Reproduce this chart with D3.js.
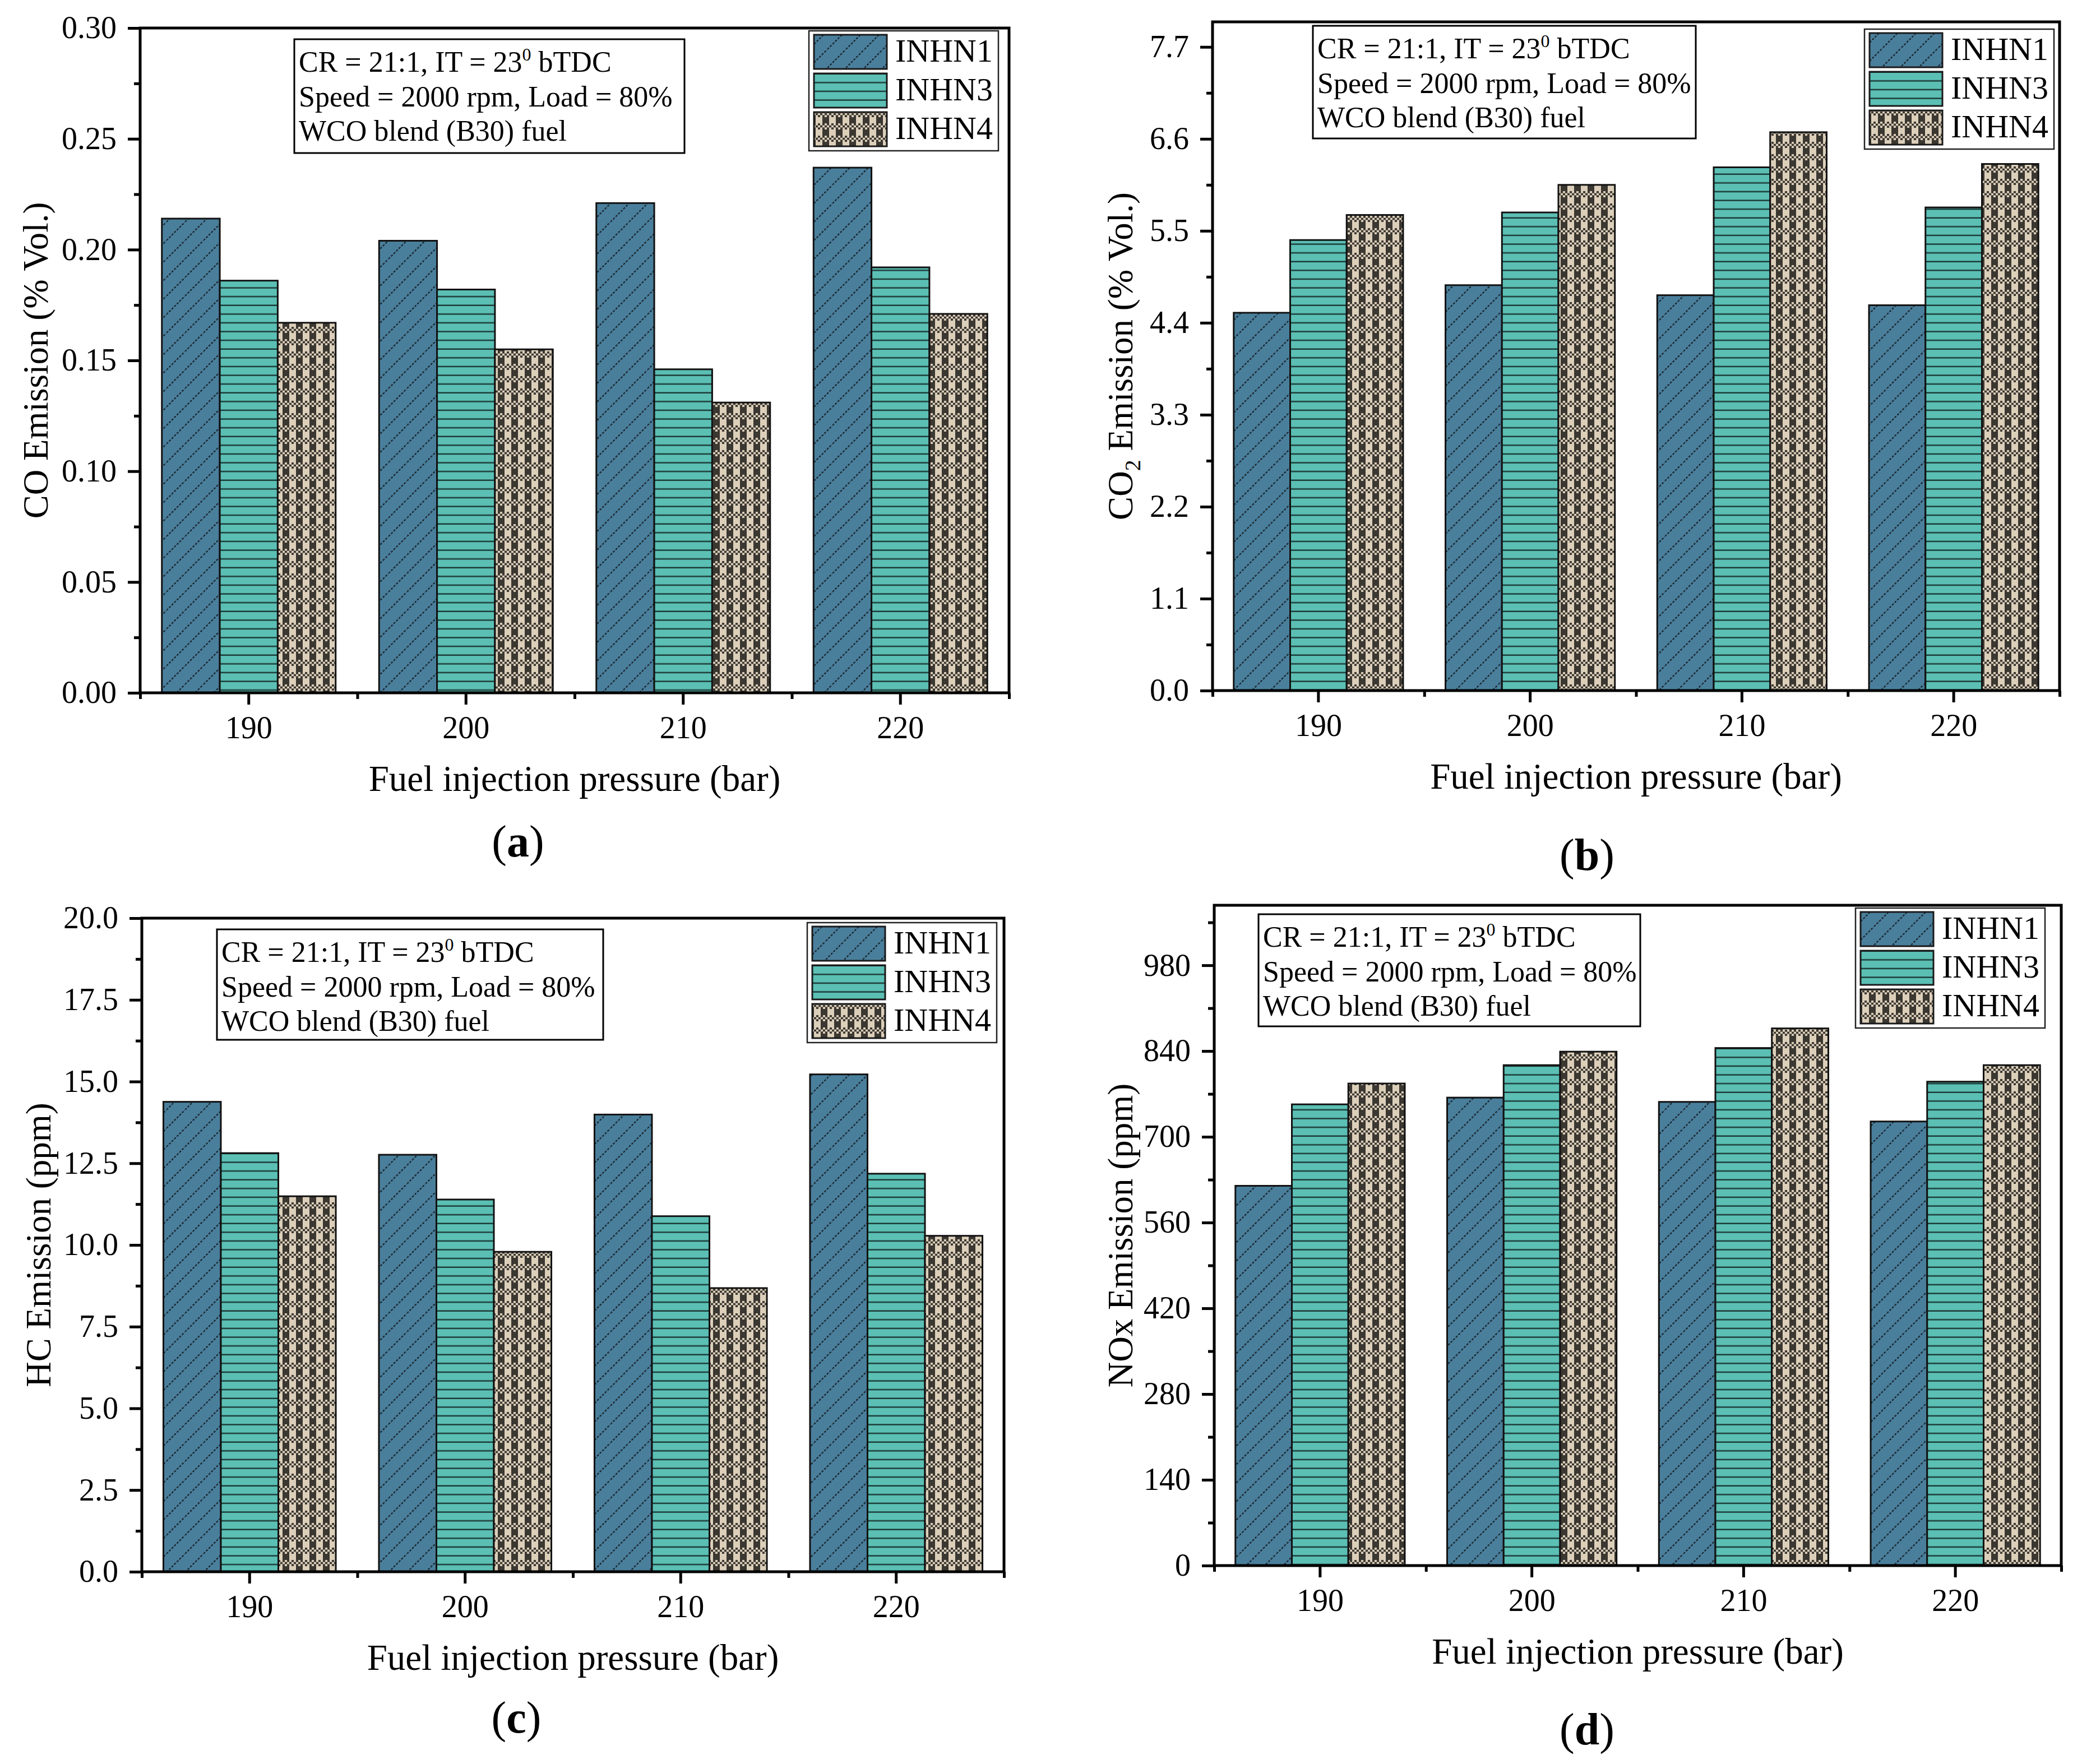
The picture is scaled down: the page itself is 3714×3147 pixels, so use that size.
<!DOCTYPE html>
<html>
<head>
<meta charset="utf-8">
<script src="https://cdn.jsdelivr.net/npm/d3@7"></script>
<style>
  body { margin: 0; background: #fff; }
  text { font-family: "Liberation Serif", "Times New Roman", serif; fill: #000; }
</style>
</head>
<body>
<script>
const pressures = ["190", "200", "210", "220"]
const blends = ["INHN1", "INHN3", "INHN4"]

// CO emission (% Vol.)
const coInhn1 = [0.214, 0.204, 0.221, 0.237]
const coInhn3 = [0.186, 0.182, 0.146, 0.192]
const coInhn4 = [0.167, 0.155, 0.131, 0.171]
// CO2 emission (% Vol.)
const co2Inhn1 = [4.52, 4.85, 4.73, 4.61]
const co2Inhn3 = [5.39, 5.72, 6.26, 5.78]
const co2Inhn4 = [5.69, 6.05, 6.68, 6.30]
// HC emission (ppm)
const hcInhn1 = [14.38, 12.76, 13.99, 15.22]
const hcInhn3 = [12.81, 11.39, 10.88, 12.18]
const hcInhn4 = [11.49, 9.79, 8.68, 10.28]
// NOx emission (ppm)
const noxInhn1 = [620, 764, 757, 725]
const noxInhn3 = [753, 817, 845, 790]
const noxInhn4 = [787, 839, 877, 817]

const coTicks = [0, 0.05, 0.10, 0.15, 0.20, 0.25, 0.30]
const co2Ticks = [0, 1.1, 2.2, 3.3, 4.4, 5.5, 6.6, 7.7]
const hcTicks = [0, 2.5, 5, 7.5, 10, 12.5, 15, 17.5, 20]
const noxTicks = [0, 140, 280, 420, 560, 700, 840, 980]

const noteLine1 = ["CR = 21:1, IT = 23", "0", " bTDC"]
const noteLine2 = "Speed = 2000 rpm, Load = 80%"
const noteLine3 = "WCO blend (B30) fuel"
const xTitle = "Fuel injection pressure (bar)"

const W = 3714, H = 3147
const fontFam = '"Liberation Serif", "Times New Roman", serif'

// layout per panel: plot box [left, top, right, bottom]
const panels = [
  {tag: "a", vals: [coInhn1, coInhn3, coInhn4], ticks: coTicks, max: 0.30, fmt: ".2f",
   box: [250, 50, 1800, 1236], title: ["CO Emission (% Vol.)"], titleDx: 165,
   note: [525, 70, 696, 203], legend: [1443, 55], label: [924, 1528]},
  {tag: "b", vals: [co2Inhn1, co2Inhn3, co2Inhn4], ticks: co2Ticks, max: 8.0, fmt: ".1f",
   box: [2163, 39, 3674, 1232], title: ["CO", "2", " Emission (% Vol.)"], titleDx: 143,
   note: [2342, 46, 683, 201], legend: [3326, 52], label: [2831, 1552]},
  {tag: "c", vals: [hcInhn1, hcInhn3, hcInhn4], ticks: hcTicks, max: 20, fmt: ".1f",
   box: [253, 1638, 1791, 2804], title: ["HC Emission (ppm)"], titleDx: 163,
   note: [387, 1658, 689, 197], legend: [1440, 1646], label: [921, 3091]},
  {tag: "d", vals: [noxInhn1, noxInhn3, noxInhn4], ticks: noxTicks, max: 1078, fmt: "d",
   box: [2166, 1615, 3677, 2793], title: ["NOx Emission (ppm)"], titleDx: 146,
   note: [2245, 1631, 681, 200], legend: [3310, 1620], label: [2831, 3112]}
]

const svg = d3.select("body").append("svg")
  .attr("width", W)
  .attr("height", H)
  .style("background", "#fff")

const defs = svg.append("defs")

// INHN1: blue with diagonal hatch
const p1 = defs.append("pattern").attr("id", "pat0")
  .attr("patternUnits", "userSpaceOnUse").attr("width", 33).attr("height", 33)
p1.append("rect").attr("width", 33).attr("height", 33).attr("fill", "#4a7f9c")
p1.append("path").attr("d", "M0,33L33,0M-8,8L8,-8M25,41L41,25")
  .attr("stroke", "#1c2c36").attr("stroke-width", 2.5).attr("stroke-dasharray", "4 2.5")

// INHN3: teal with horizontal lines
const p2 = defs.append("pattern").attr("id", "pat1")
  .attr("patternUnits", "userSpaceOnUse").attr("width", 10).attr("height", 15.6)
p2.append("rect").attr("width", 10).attr("height", 15.6).attr("fill", "#5bbfb4")
p2.append("rect").attr("y", 13.1).attr("width", 10).attr("height", 2.5).attr("fill", "#1d3b38")

// INHN4: beige/dark check
const dark4 = "#3b3731"
const p3 = defs.append("pattern").attr("id", "pat2")
  .attr("patternUnits", "userSpaceOnUse").attr("width", 24).attr("height", 22)
p3.append("rect").attr("width", 24).attr("height", 22).attr("fill", "#dccfba")
p3.append("rect").attr("width", 12).attr("height", 11).attr("fill", dark4)
for (let i = 0; i < 6; i++) {
  for (let j = 0; j < 3; j++) {
    if ((i + j) % 2 === 0) {
      p3.append("rect").attr("x", i * 4).attr("y", 11 + j * 11 / 3)
        .attr("width", 4).attr("height", 11 / 3).attr("fill", dark4)
    }
  }
}

panels.forEach(p => {
  const [L, T, R, B] = p.box
  const g = svg.append("g")

  const x = d3.scaleBand().domain(pressures).range([L, R]).paddingInner(0.2).paddingOuter(0.1)
  const xs = d3.scaleBand().domain(blends).range([0, x.bandwidth()])
  const xl = d3.scaleLinear().domain([185, 225]).range([L, R])
  const y = d3.scaleLinear().domain([0, p.max]).range([B, T])

  // bars
  blends.forEach((s, k) => {
    g.append("g").selectAll("rect")
      .data(p.vals[k])
      .join("rect")
      .attr("x", (d, i) => x(pressures[i]) + xs(s))
      .attr("y", d => y(d))
      .attr("width", xs.bandwidth())
      .attr("height", d => B - y(d))
      .attr("fill", `url(#pat${k})`)
      .attr("stroke", "#121212")
      .attr("stroke-width", 3)
  })

  // frame
  g.append("rect")
    .attr("x", L).attr("y", T).attr("width", R - L).attr("height", B - T)
    .attr("fill", "none").attr("stroke", "#000").attr("stroke-width", 5)

  // y axis: major + minor
  const step = p.ticks[1] - p.ticks[0]
  const minor = d3.pairs(p.ticks).map(([a, b]) => (a + b) / 2)
  const extra = p.ticks[p.ticks.length - 1] + step / 2
  if (extra <= p.max) minor.push(extra)

  g.append("g")
    .attr("transform", `translate(${L},0)`)
    .call(d3.axisLeft(y).tickValues(p.ticks).tickSize(22).tickPadding(20).tickFormat(d3.format(p.fmt)))
    .attr("font-size", 56).attr("font-family", fontFam)
    .call(a => a.select(".domain").remove())
    .call(a => a.selectAll("line").attr("stroke", "#000").attr("stroke-width", 5))
    .call(a => a.selectAll("text").attr("fill", "#000"))

  g.append("g")
    .attr("transform", `translate(${L},0)`)
    .call(d3.axisLeft(y).tickValues(minor).tickSize(11).tickFormat(""))
    .call(a => a.select(".domain").remove())
    .call(a => a.selectAll("line").attr("stroke", "#000").attr("stroke-width", 5))

  // x axis: major at categories, minor at group boundaries
  g.append("g")
    .attr("transform", `translate(0,${B})`)
    .call(d3.axisBottom(x).tickSize(21).tickPadding(20))
    .attr("font-size", 56).attr("font-family", fontFam)
    .call(a => a.select(".domain").remove())
    .call(a => a.selectAll("line").attr("stroke", "#000").attr("stroke-width", 5))
    .call(a => a.selectAll("text").attr("fill", "#000"))

  g.append("g")
    .attr("transform", `translate(0,${B})`)
    .call(d3.axisBottom(xl).tickValues([185, 195, 205, 215, 225]).tickSize(11).tickFormat(""))
    .call(a => a.select(".domain").remove())
    .call(a => a.selectAll("line").attr("stroke", "#000").attr("stroke-width", 5))

  // axis titles
  g.append("text")
    .attr("x", (L + R) / 2).attr("y", B + 175)
    .attr("text-anchor", "middle").attr("font-size", 65)
    .text(xTitle)

  const yt = g.append("text")
    .attr("transform", `translate(${L - p.titleDx},${(T + B) / 2}) rotate(-90)`)
    .attr("text-anchor", "middle").attr("font-size", 63)
  if (p.title.length === 1) {
    yt.text(p.title[0])
  } else {
    yt.append("tspan").text(p.title[0])
    yt.append("tspan").attr("font-size", 40).attr("dy", 14).text(p.title[1])
    yt.append("tspan").attr("dy", -14).text(p.title[2])
  }

  // condition note box
  const [nx, ny, nw, nh] = p.note
  g.append("rect").attr("x", nx).attr("y", ny).attr("width", nw).attr("height", nh)
    .attr("fill", "#fff").attr("stroke", "#000").attr("stroke-width", 3)
  const t1 = g.append("text").attr("x", nx + 8).attr("y", ny + 58).attr("font-size", 52)
  t1.append("tspan").text(noteLine1[0])
  t1.append("tspan").attr("font-size", 32).attr("dy", -20).text(noteLine1[1])
  t1.append("tspan").attr("dy", 20).text(noteLine1[2])
  g.append("text").attr("x", nx + 8).attr("y", ny + 120).attr("font-size", 52).text(noteLine2)
  g.append("text").attr("x", nx + 8).attr("y", ny + 181).attr("font-size", 52).text(noteLine3)

  // legend
  const [lx, ly] = p.legend
  const lg = g.append("g").attr("transform", `translate(${lx},${ly})`)
  lg.append("rect").attr("width", 338).attr("height", 214)
    .attr("fill", "#fff").attr("stroke", "#222").attr("stroke-width", 2.5)
  blends.forEach((s, k) => {
    lg.append("rect")
      .attr("x", 9).attr("y", 7 + k * 69).attr("width", 130).attr("height", 61)
      .attr("fill", `url(#pat${k})`).attr("stroke", "#1a1a1a").attr("stroke-width", 3)
    lg.append("text")
      .attr("x", 154).attr("y", 55 + k * 69).attr("font-size", 58)
      .text(s)
  })

  // panel label
  const lb = g.append("text")
    .attr("x", p.label[0]).attr("y", p.label[1])
    .attr("text-anchor", "middle").attr("font-size", 80)
  lb.append("tspan").text("(")
  lb.append("tspan").attr("font-weight", "bold").text(p.tag)
  lb.append("tspan").text(")")
})
</script>
</body>
</html>
